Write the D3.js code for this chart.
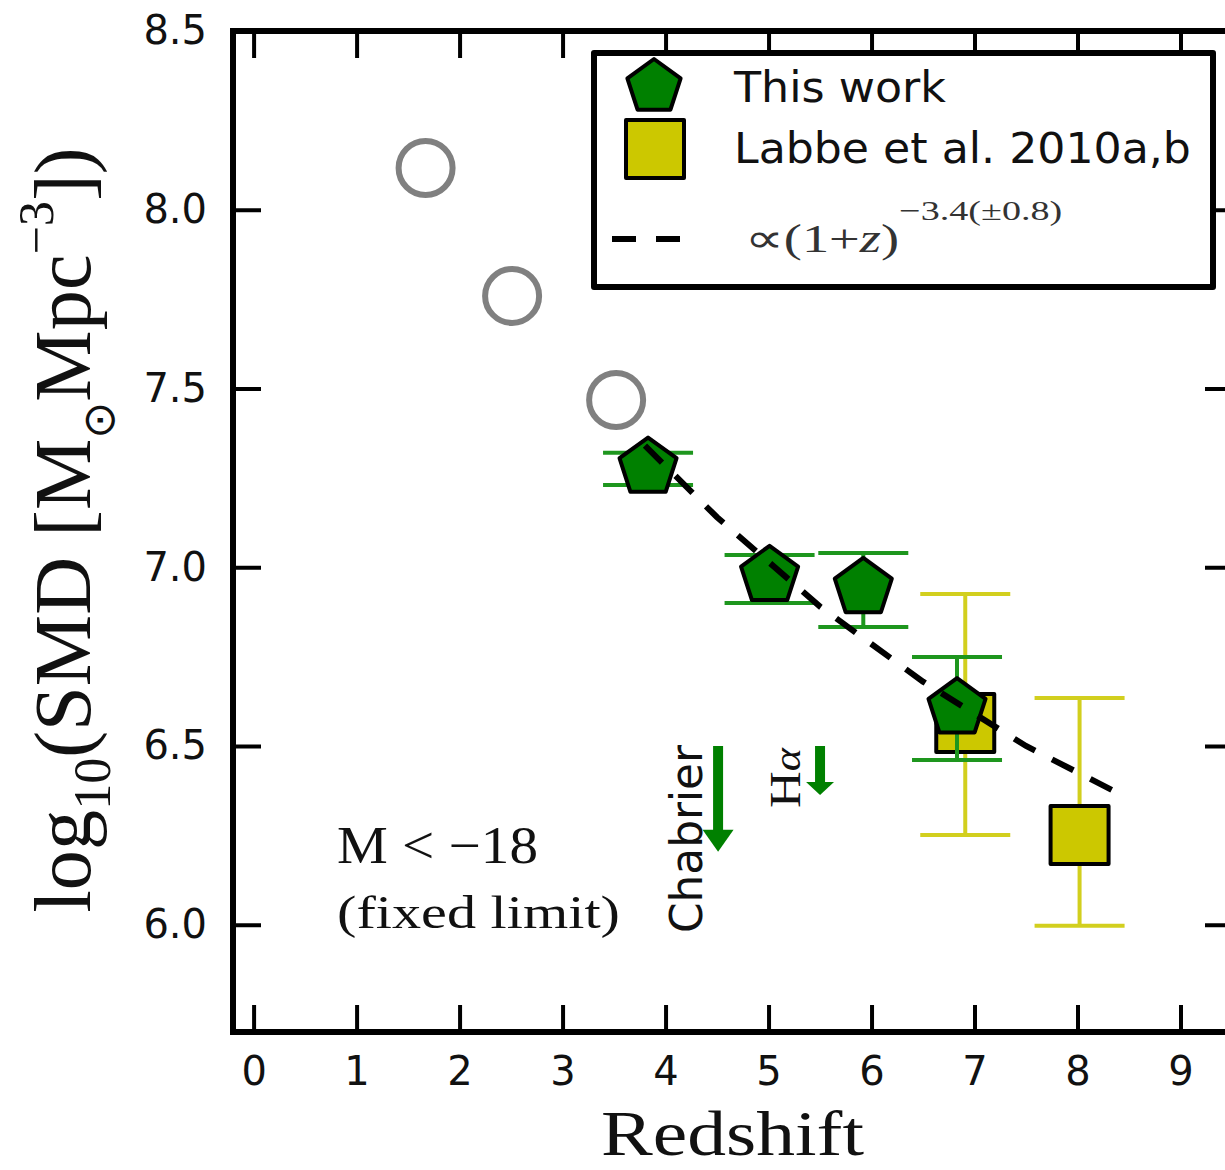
<!DOCTYPE html>
<html><head><meta charset="utf-8">
<script src="https://cdn.jsdelivr.net/npm/d3@7"></script>
<style>body{margin:0;background:#fff} svg{display:block}</style>
</head><body>
<script>
// ---------------- data ----------------
const xTicks = [0,1,2,3,4,5,6,7,8,9];
const yTicks = [6.0,6.5,7.0,7.5,8.0,8.5];
const yTickLabels = ["6.0","6.5","7.0","7.5","8.0","8.5"];

const circleZ = [1.67, 2.51, 3.52];
const circleV = [8.117, 7.759, 7.468];

const thisZ  = [3.83, 5.01, 5.92, 6.83];
const thisV  = [7.279, 6.976, 6.942, 6.606];
const thisHi = [7.320, 7.034, 7.040, 6.749];
const thisLo = [7.230, 6.900, 6.833, 6.461];

const labbeZ  = [6.91, 8.02];
const labbeV  = [6.564, 6.251];
const labbeHi = [6.925, 6.634];
const labbeLo = [6.251, 5.997];

const fitZ = [3.8, 4.5, 5.5, 6.5, 7.5, 8.45];
const fitV = [7.34, 7.14, 6.89, 6.68, 6.50, 6.36];

const arrowZ = [4.51, 5.50];
const arrowFrom = [6.5, 6.5];
const arrowTo = [6.204, 6.363];

const legendLabels = ["This work", "Labbe et al. 2010a,b"];

// ---------------- setup ----------------
const W = 1225, H = 1170;
const svg = d3.select('body').append('svg').attr('width', W).attr('height', H);
const x = d3.scaleLinear().domain([-0.2, 9.5]).range([233, 1232]);
const y = d3.scaleLinear().domain([5.7, 8.5]).range([1032, 31]);

const GREEN = '#008000', GREEN_ERR = '#1e961e';
const YEL = '#ccc800', YEL_ERR = '#d2cf1e';
const SANS = 'DejaVu Sans, Verdana, sans-serif';
const SERIF = 'Liberation Serif, Times New Roman, serif';

function fit(sel, target) {
  const n = sel.node();
  const w = n.getComputedTextLength();
  return target / w;
}

// ---------------- axes ----------------
const tickW = 4;
const gB = svg.append('g').attr('transform', `translate(0,${y.range()[0]})`)
  .call(d3.axisBottom(x).tickValues(xTicks).tickSizeInner(-27).tickSizeOuter(0).tickPadding(25).tickFormat(d3.format('d')));
const gT = svg.append('g').attr('transform', `translate(0,${y.range()[1]})`)
  .call(d3.axisTop(x).tickValues(xTicks).tickSizeInner(-27).tickSizeOuter(0).tickFormat(''));
const gL = svg.append('g').attr('transform', `translate(${x.range()[0]},0)`)
  .call(d3.axisLeft(y).tickValues(yTicks).tickSizeInner(-28).tickSizeOuter(0).tickPadding(26).tickFormat((d,i)=>yTickLabels[i]));
const gR = svg.append('g').attr('transform', `translate(${x.range()[1]},0)`)
  .call(d3.axisRight(y).tickValues(yTicks).tickSizeInner(-27).tickSizeOuter(0).tickFormat(''));
[gB,gT,gL,gR].forEach(g=>{
  g.select('.domain').remove();
  g.selectAll('.tick line').attr('stroke','#000').attr('stroke-width',tickW);
  g.selectAll('.tick text').attr('font-family',SANS).attr('font-size',40).attr('fill','#111');
});

// frame
svg.append('rect').attr('x', x.range()[0]).attr('y', y.range()[1])
  .attr('width', x.range()[1]-x.range()[0]).attr('height', y.range()[0]-y.range()[1])
  .attr('fill','none').attr('stroke','#000').attr('stroke-width',6);

// ---------------- open circles ----------------
svg.append('g').selectAll('circle').data(circleZ).join('circle')
  .attr('cx', d=>x(d)).attr('cy', (d,i)=>y(circleV[i])).attr('r', 27)
  .attr('fill','none').attr('stroke','#808080').attr('stroke-width',6);

// ---------------- error bars helper ----------------
function errbars(zs, hi, lo, color) {
  const g = svg.append('g').attr('stroke', color).attr('stroke-width', 4);
  zs.forEach((z,i)=>{
    g.append('line').attr('x1',x(z)).attr('x2',x(z)).attr('y1',y(hi[i])).attr('y2',y(lo[i]));
    [hi[i],lo[i]].forEach(v=>{
      g.append('line').attr('x1',x(z)-45).attr('x2',x(z)+45).attr('y1',y(v)).attr('y2',y(v));
    });
  });
}

// Labbe
errbars(labbeZ, labbeHi, labbeLo, YEL_ERR);
const sq = 58;
svg.append('g').selectAll('rect').data(labbeZ).join('rect')
  .attr('x', d=>x(d)-sq/2).attr('y', (d,i)=>y(labbeV[i])-sq/2).attr('width',sq).attr('height',sq)
  .attr('fill',YEL).attr('stroke','#000').attr('stroke-width',4).attr('stroke-linejoin','round');

// This work
errbars(thisZ, thisHi, thisLo, GREEN_ERR);
function pentagon(R) {
  const pts = d3.range(5).map(k=>{const a = -Math.PI/2 + k*2*Math.PI/5; return [R*Math.cos(a), R*Math.sin(a)];});
  return 'M' + pts.map(p=>p.join(',')).join('L') + 'Z';
}
svg.append('g').selectAll('path').data(thisZ).join('path')
  .attr('d', pentagon(30)).attr('transform',(d,i)=>`translate(${x(d)},${y(thisV[i])})`)
  .attr('fill',GREEN).attr('stroke','#000').attr('stroke-width',4).attr('stroke-linejoin','round');

// fit line
svg.append('path').datum(fitZ.map((z,i)=>[z,fitV[i]]))
  .attr('d', d3.line().x(d=>x(d[0])).y(d=>y(d[1])))
  .attr('fill','none').attr('stroke','#000').attr('stroke-width',6).attr('stroke-dasharray','24,19');

// ---------------- arrows ----------------
const heads = [{len:22, w:31}, {len:13, w:28}];
arrowZ.forEach((z,i)=>{
  const ax = x(z), y0 = y(arrowFrom[i]), y1 = y(arrowTo[i]);
  const h = heads[i];
  svg.append('rect').attr('x', ax-5).attr('y', y0).attr('width',10).attr('height', y1-h.len-y0+1).attr('fill',GREEN);
  svg.append('path').attr('d', `M${ax-h.w/2},${y1-h.len}L${ax+h.w/2},${y1-h.len}L${ax},${y1}Z`).attr('fill',GREEN);
});

// Chabrier label
{
  const cx = x(arrowZ[0]) - 16, cy = 839;
  const t = svg.append('text').attr('font-family',SANS).attr('font-size',44).attr('fill','#111')
    .attr('text-anchor','middle').text('Chabrier');
  const s = fit(t, 188);
  t.attr('transform', `translate(${cx},${cy}) rotate(-90) scale(${s},1)`);
}
// Halpha label
{
  const cx = x(arrowZ[1]) - 20, cy = 778;
  const t = svg.append('text').attr('font-family',SERIF).attr('font-size',44).attr('fill','#111')
    .attr('text-anchor','middle');
  t.append('tspan').text('H');
  t.append('tspan').attr('font-style','italic').attr('font-size',38).text('α');
  const s = fit(t, 60);
  t.attr('transform', `translate(${cx},${cy}) rotate(-90) scale(${s},1)`);
}

// M < -18 annotation
{
  const t1 = svg.append('text').attr('font-family',SERIF).attr('font-size',52).attr('fill','#111').text('M < −18');
  const s1 = fit(t1, 201);
  t1.attr('transform', `translate(337,863) scale(${s1},1)`);
  const t2 = svg.append('text').attr('font-family',SERIF).attr('font-size',46).attr('fill','#111').text('(fixed limit)');
  const s2 = fit(t2, 283);
  t2.attr('transform', `translate(337,928) scale(${s2},1)`);
}

// ---------------- axis titles ----------------
{
  const t = svg.append('text').attr('font-family',SERIF).attr('font-size',64).attr('fill','#111')
    .attr('text-anchor','middle').text('Redshift');
  const s = fit(t, 263);
  t.attr('transform', `translate(${(x.range()[0]+x.range()[1])/2},1155) scale(${s},1)`);
}
{
  const t = svg.append('text').attr('font-family',SERIF).attr('font-size',80).attr('fill','#111')
    .attr('text-anchor','middle');
  t.append('tspan').text('log');
  t.append('tspan').attr('font-size',52).attr('dy',20).text('10');
  t.append('tspan').attr('dy',-20).text('(SMD [M');
  t.append('tspan').attr('font-family',SANS).attr('font-size',44).attr('dy',24).text('⊙');
  t.append('tspan').attr('dy',-24).text('Mpc');
  t.append('tspan').attr('font-size',50).attr('dy',-37).text('−3');
  t.append('tspan').attr('dy',37).text('])');
  const s = fit(t, 765);
  t.attr('transform', `translate(90,530) rotate(-90) scale(${s},1)`);
}

// ---------------- legend ----------------
const lg = svg.append('g');
lg.append('rect').attr('x',594).attr('y',53).attr('width',619).attr('height',234)
  .attr('fill','#fff').attr('stroke','#000').attr('stroke-width',6).attr('stroke-linejoin','round');
lg.append('path').attr('d', pentagon(28)).attr('transform','translate(654,87)')
  .attr('fill',GREEN).attr('stroke','#000').attr('stroke-width',4).attr('stroke-linejoin','round');
lg.append('rect').attr('x',655-sq/2).attr('y',149-sq/2).attr('width',sq).attr('height',sq)
  .attr('fill',YEL).attr('stroke','#000').attr('stroke-width',4).attr('stroke-linejoin','round');
lg.append('line').attr('x1',612).attr('x2',681).attr('y1',239).attr('y2',239)
  .attr('stroke','#000').attr('stroke-width',6).attr('stroke-dasharray','24,20');
{
  const targets = [212, 457];
  const bases = [102, 163];
  legendLabels.forEach((lab,i)=>{
    const t = lg.append('text').attr('font-family',SANS).attr('font-size',42).attr('fill','#111').text(lab);
    const s = fit(t, targets[i]);
    t.attr('transform', `translate(734,${bases[i]}) scale(${s},1)`);
  });
  const f = lg.append('text').attr('font-family',SERIF).attr('font-size',40).attr('fill','#333');
  f.append('tspan').text('∝(1+');
  f.append('tspan').attr('font-style','italic').text('z');
  f.append('tspan').text(')');
  f.append('tspan').attr('font-size',28).attr('dy',-32).text('−3.4(±0.8)');
  const s = fit(f, 318);
  f.attr('transform', `translate(745,252) scale(${s},1)`);
}
</script>
</body></html>
